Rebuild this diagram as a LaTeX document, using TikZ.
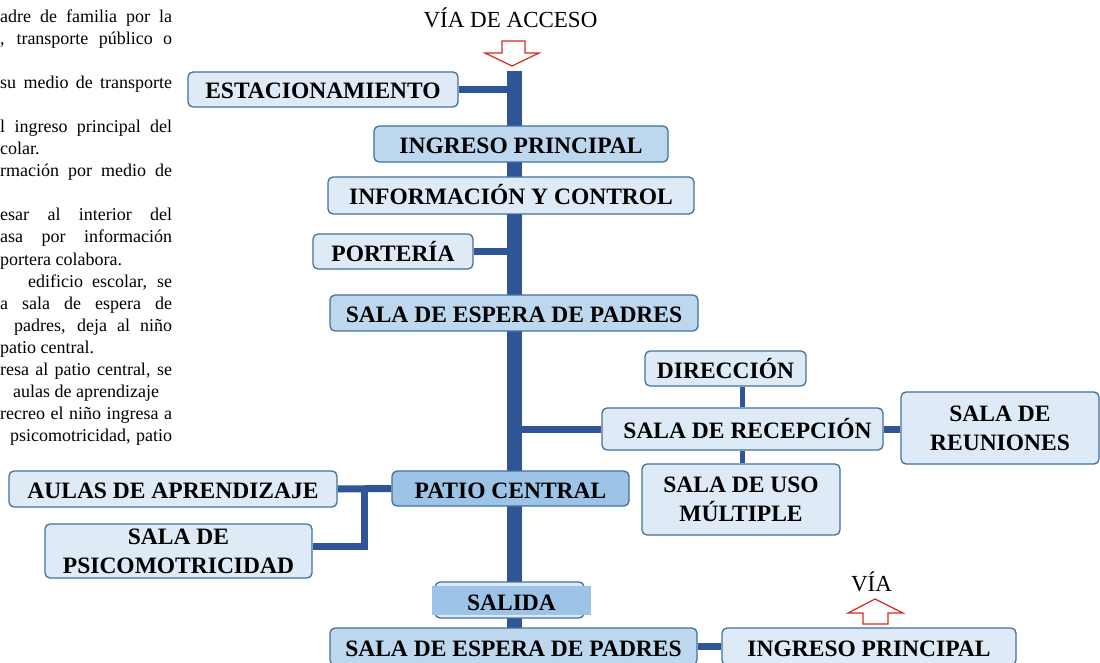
\documentclass[tikz,border=0pt]{standalone}
\usepackage{fontspec}
\setmainfont{Liberation Serif}
\usetikzlibrary{backgrounds,calc}
\definecolor{boxlight}{HTML}{DEEAF6}
\definecolor{boxmid}{HTML}{BDD7EE}
\definecolor{boxdark}{HTML}{9DC3E6}
\definecolor{boxline}{HTML}{41719C}
\definecolor{spinecol}{HTML}{2F5597}
\definecolor{arrowred}{HTML}{D42A20}
\tikzset{
 room/.style={draw=boxline, line width=1.3pt, rounded corners=5pt, fill=boxlight, inner sep=0pt,
   font=\fontsize{23.5}{29}\selectfont\bfseries, align=center},
 oneline/.style={room, text height=19pt, text depth=0pt},
 link/.style={draw=spinecol, line width=7pt},
 thinlink/.style={draw=spinecol, line width=5.5pt},
 spineline/.style={draw=spinecol, line width=15pt},
 ptext/.style={font=\fontsize{18}{22}\selectfont, inner sep=0pt, anchor=base west},
 hollow/.style={draw=arrowred, line width=1.2pt, fill=white, line join=miter},
 titletext/.style={font=\fontsize{23}{28}\selectfont, inner sep=0pt, anchor=base},
}
\newcommand\jline[5]{\node[ptext] (#1) at (#2,#3) {\makebox[#4pt][s]{#5}};}
\newcommand\pline[4]{\node[ptext] (#1) at (#2,#3) {#4};}
\begin{document}
\begin{tikzpicture}[x=1pt,y=-1pt]
\useasboundingbox (0,0) rectangle (1100,663);

% left paragraph (clipped text)
\jline{p1}{0}{23}{172}{adre de familia por la}
\jline{p2}{0}{45}{172}{, transporte público o}
\jline{p3}{0}{89}{172}{su medio de transporte}
\jline{p4}{0}{133}{172}{l ingreso principal del}
\pline{p5}{0}{155}{colar.}
\jline{p6}{0}{177}{172}{rmación por medio de}
\jline{p7}{0}{221}{172}{esar al interior del}
\jline{p8}{0}{243}{172}{asa por información}
\pline{p9}{0}{265}{portera colabora.}
\jline{p10}{28}{287}{144}{edificio escolar, se}
\jline{p11}{0}{309}{172}{a sala de espera de}
\jline{p12}{14}{331}{158}{padres, deja al niño}
\pline{p13}{0}{353}{patio central.}
\jline{p14}{0}{375}{172}{resa al patio central, se}
\pline{p15}{13}{397}{aulas de aprendizaje}
\jline{p16}{0}{419}{172}{recreo el niño ingresa a}
\jline{p17}{10}{441}{162}{psicomotricidad, patio}

% titles and arrows
\node[titletext] (via1) at (510.5,28) {VÍA DE ACCESO};
\draw[hollow] (502,41) -- (525,41) -- (525,53) -- (539,53) -- (512,66) -- (485,53) -- (502,53) -- cycle;
\node[titletext] (via2) at (871.5,591) {VÍA};
\draw[hollow] (863,624) -- (888,624) -- (888,613) -- (903,613) -- (875,599) -- (848,613) -- (863,613) -- cycle;

% boxes
\node[oneline, minimum width=270pt, minimum height=35pt] (est) at (323,89.5) {ESTACIONAMIENTO};
\node[oneline, fill=boxmid, minimum width=294pt, minimum height=36pt] (ing1) at (521,144) {INGRESO PRINCIPAL};
\node[oneline, minimum width=366pt, minimum height=37pt] (inf) at (511,195.5) {INFORMACIÓN Y CONTROL};
\node[oneline, minimum width=160pt, minimum height=35pt] (por) at (393,251.5) {PORTERÍA};
\node[oneline, fill=boxmid, minimum width=368pt, minimum height=36pt] (sep1) at (514,313) {SALA DE ESPERA DE PADRES};
\node[oneline, minimum width=161pt, minimum height=35pt] (dir) at (725.5,368.5) {DIRECCIÓN};
\node[oneline, minimum width=281pt, minimum height=42pt] (rec) at (742.5,429) {\hspace*{10pt}SALA DE RECEPCIÓN};
\node[room, minimum width=198pt, minimum height=72pt] (reu) at (1000,428) {SALA DE\\REUNIONES};
\node[room, minimum width=198pt, minimum height=71pt] (uso) at (741,499.5) {SALA DE USO\\MÚLTIPLE};
\node[oneline, fill=boxdark, minimum width=237pt, minimum height=35pt] (pat) at (510.5,488.5) {PATIO CENTRAL};
\node[oneline, minimum width=328pt, minimum height=36pt] (aul) at (173,489) {AULAS DE APRENDIZAJE};
\node[room, minimum width=267pt, minimum height=54pt] (psi) at (178.5,551) {SALA DE\\PSICOMOTRICIDAD};
\node[room, minimum width=149pt, minimum height=36pt] (sal) at (509.5,600) {};
\node[oneline, draw=none, rounded corners=0pt, fill=boxdark, minimum width=159pt, minimum height=29pt] (salr) at (511.5,600.5) {SALIDA};
\node[oneline, fill=boxmid, minimum width=367pt, minimum height=37pt] (sep2) at (513.5,646.5) {SALA DE ESPERA DE PADRES};
\node[oneline, minimum width=294pt, minimum height=37pt] (ing2) at (869,646.5) {INGRESO PRINCIPAL};

% connectors
\begin{scope}[on background layer]
\fill[white] (0,0) rectangle (1100,663);
\coordinate (top) at (514,71);
\coordinate (bot) at (514,670);
\coordinate (aj) at ($(aul.east)!0.5!(pat.west)$);
\draw[spineline] (top) -- (bot);
\draw[link] (est.east) -- (est.east -| top);
\draw[link] (por.east) -- (por.east -| top);
\draw[link] (rec.west -| top) -- (rec.west);
\draw[link] (rec.east) -- (rec.east -| reu.west);
\draw[thinlink] (rec.north) -- (rec.north |- dir.south);
\draw[thinlink] (rec.south) -- (rec.south |- uso.north);
\draw[link] (aul.east) -- (pat.west);
\draw[link] ([yshift=5pt]psi.east) -| (aj);
\draw[link] (sep2.east) -- (sep2.east -| ing2.west);
\end{scope}
\end{tikzpicture}
\end{document}
